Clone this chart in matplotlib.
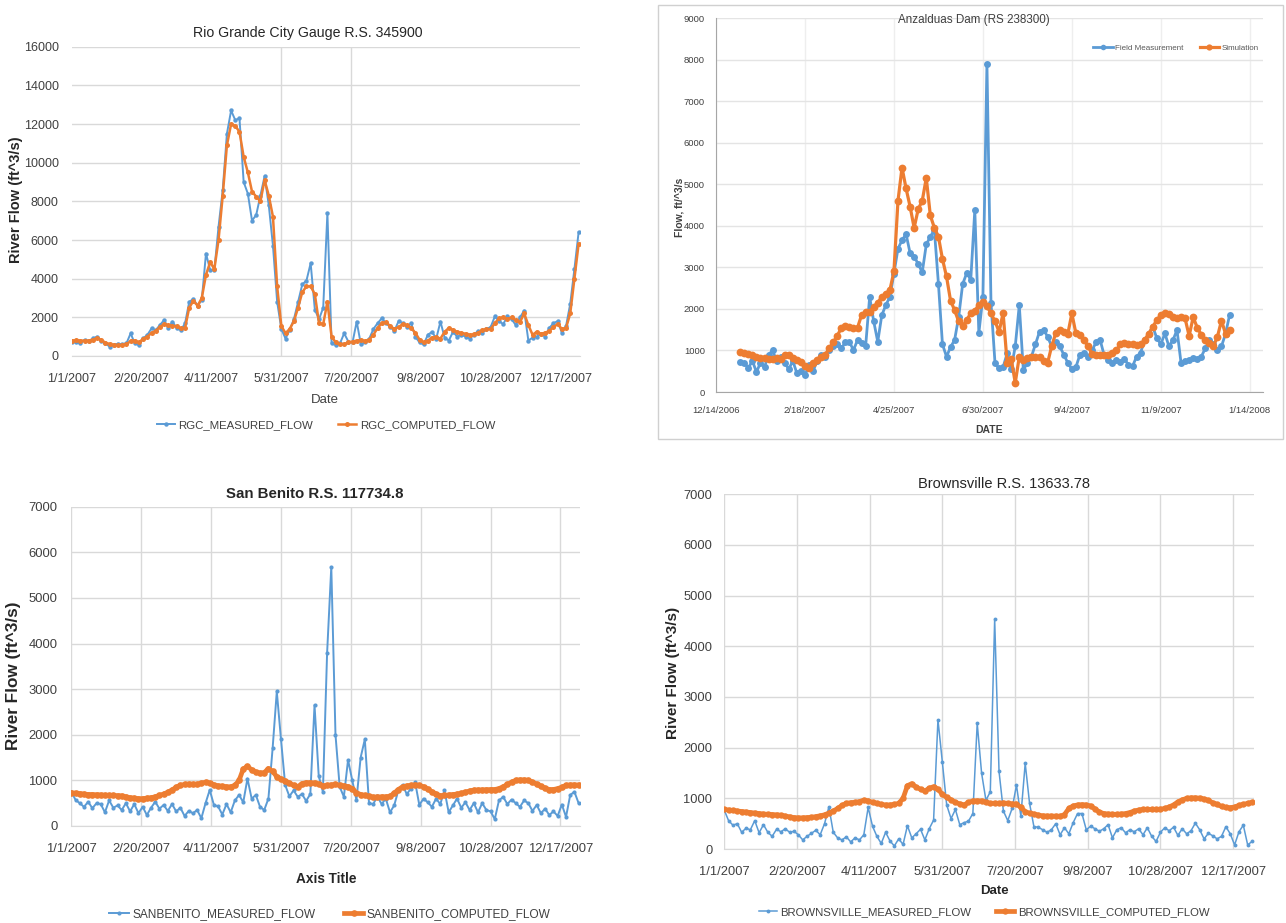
import numpy as np
import pandas as pd
import matplotlib
matplotlib.use('Agg')
import matplotlib.pyplot as plt
from matplotlib.patches import Rectangle

plt.rcParams['font.family'] = ['Liberation Sans', 'DejaVu Sans']

BLUE = '#5B9BD5'
ORANGE = '#ED7D31'
GRID = '#D9D9D9'

# ---------------- data (values every 3 days starting 1/1/2007) ----------------
STEP = 3
date_labels = ['1/1/2007', '2/20/2007', '4/11/2007', '5/31/2007', '7/20/2007',
               '9/8/2007', '10/28/2007', '12/17/2007']
anz_labels = ['12/14/2006', '2/18/2007', '4/25/2007', '6/30/2007', '9/4/2007',
              '11/9/2007', '1/14/2008']

rgc_measured = [740, 700, 650, 830, 760, 910, 1000, 760, 650, 480,
                570, 640, 600, 650, 1170, 650, 560, 910, 1090, 1430,
                1340, 1600, 1860, 1430, 1780, 1430, 1340, 1690, 2800, 2950,
                2600, 2900, 5300, 4450, 4450, 6690, 8590, 11500, 12700, 12200,
                12300, 9000, 8400, 7000, 7300, 8300, 9300, 7800, 5700, 2800,
                1400, 900, 1350, 1900, 2800, 3700, 3900, 4800, 2400, 1900,
                2500, 7400, 650, 570, 650, 1170, 750, 700, 1780, 600,
                700, 900, 1400, 1700, 1950, 1700, 1500, 1300, 1800, 1700,
                1500, 1700, 1000, 700, 600, 1100, 1250, 900, 1780, 950,
                800, 1250, 1000, 1100, 1000, 900, 1100, 1300, 1200, 1400,
                1500, 2050, 1800, 1650, 2050, 1900, 1600, 2000, 2350, 800,
                950, 1000, 1150, 1000, 1450, 1700, 1800, 1200, 1550, 2700,
                4500, 6400]
rgc_computed = [790, 820, 800, 790, 800, 850, 930, 830, 690, 620,
                580, 560, 570, 600, 780, 800, 700, 900, 1000, 1200,
                1310, 1500, 1650, 1600, 1550, 1550, 1430, 1450, 2500, 2850,
                2600, 3000, 4200, 4850, 4500, 6000, 8300, 10900, 12000, 11900,
                11600, 10300, 9500, 8500, 8250, 8000, 9100, 8300, 7200, 3600,
                1550, 1180, 1400, 1800, 2500, 3300, 3600, 3600, 3200, 1700,
                1650, 2800, 1000, 700, 600, 620, 700, 750, 800, 820,
                780, 850, 1100, 1450, 1700, 1750, 1550, 1400, 1500, 1650,
                1600, 1450, 1200, 850, 700, 800, 950, 980, 900, 1250,
                1450, 1350, 1250, 1200, 1150, 1100, 1120, 1200, 1350, 1380,
                1400, 1700, 1950, 2000, 1900, 2000, 1850, 1750, 2200, 1600,
                1100, 1250, 1150, 1200, 1300, 1500, 1650, 1400, 1450, 2200,
                4000, 5800]

anz_field = [730, 700, 580, 750, 480, 700, 600, 900, 1000, 750,
             850, 700, 550, 750, 450, 500, 400, 650, 500, 750,
             900, 850, 1000, 1100, 1150, 1050, 1200, 1200, 1010, 1250,
             1170, 1100, 2290, 1700, 1210, 1850, 2090, 2290, 2850, 3450,
             3650, 3800, 3340, 3260, 3080, 2880, 3550, 3740, 3900, 2610,
             1150, 850, 1080, 1250, 1800, 2600, 2860, 2700, 4380, 1420,
             2290, 7900, 2150, 690, 570, 600, 930, 550, 1100, 2090,
             530, 700, 850, 1150, 1450, 1500, 1330, 1100, 1200, 1100,
             900, 700, 550, 600, 900, 950, 850, 1000, 1200, 1250,
             880, 760, 700, 780, 730, 800, 650, 620, 850, 950,
             1250, 1400, 1570, 1300, 1150, 1410, 1100, 1250, 1490, 700,
             750, 770, 820, 800, 850, 1050, 1250, 1150, 1000, 1100,
             1400, 1850]
anz_sim = [970, 950, 920, 880, 850, 830, 820, 800, 800, 820,
           800, 880, 880, 820, 780, 720, 620, 580, 700, 780,
           850, 900, 1050, 1200, 1350, 1550, 1600, 1570, 1530, 1550,
           1850, 1930, 1930, 2050, 2150, 2290, 2370, 2455, 2900, 4600,
           5400, 4900, 4460, 3950, 4400, 4600, 5150, 4250, 3950, 3740,
           3200, 2780, 2200, 1970, 1700, 1590, 1730, 1900, 1950, 2100,
           2170, 2070, 1890, 1700, 1450, 1900, 700, 800, 220, 850,
           770, 830, 850, 850, 850, 750, 700, 1100, 1410, 1490,
           1450, 1400, 1890, 1410, 1370, 1250, 1100, 920, 890, 890,
           890, 890, 930, 1000, 1150, 1170, 1160, 1150, 1130, 1150,
           1250, 1400, 1570, 1730, 1850, 1890, 1870, 1810, 1770, 1800,
           1770, 1350, 1800, 1550, 1380, 1260, 1170, 1100, 1330, 1720,
           1400, 1500]

sb_measured = [750, 570, 500, 420, 530, 390, 500, 480, 300, 560,
               400, 450, 350, 500, 320, 480, 280, 420, 240, 400,
               530, 380, 460, 330, 480, 320, 400, 220, 330, 280,
               350, 170, 500, 790, 460, 430, 250, 480, 300, 560,
               680, 520, 1040, 600, 680, 420, 350, 600, 1700, 2950,
               1900, 900, 650, 780, 640, 700, 550, 700, 2650, 1100,
               750, 3790, 5680, 2000, 860, 640, 1450, 1000, 570, 1500,
               1900, 500, 480, 650, 480, 600, 300, 450, 780, 900,
               700, 820, 960, 460, 600, 520, 420, 600, 480, 780,
               300, 450, 600, 400, 520, 350, 500, 300, 500, 350,
               320, 150, 560, 640, 480, 580, 500, 420, 560, 500,
               330, 460, 280, 380, 240, 320, 220, 470, 200, 680,
               750, 500]
sb_computed = [730, 720, 710, 700, 690, 690, 685, 680, 675, 670,
               670, 665, 660, 640, 620, 610, 600, 600, 610, 620,
               640, 670, 700, 740, 790, 850, 890, 910, 920, 915,
               915, 940, 960, 940, 900, 880, 870, 860, 860, 890,
               1000, 1250, 1310, 1230, 1180, 1160, 1170, 1260, 1200, 1080,
               1030, 990, 940, 890, 860, 930, 950, 950, 945, 920,
               880, 890, 900, 910, 890, 880, 865, 820, 730, 690,
               670, 650, 630, 635, 640, 640, 650, 720, 800, 860,
               880, 890, 900, 890, 860, 810, 750, 700, 665, 670,
               680, 690, 700, 715, 740, 770, 785, 790, 790, 795,
               800, 800, 820, 860, 910, 960, 1000, 1010, 1010, 1000,
               960, 920, 870, 830, 800, 800, 820, 850, 890, 900,
               900, 900]

bv_measured = [770, 560, 470, 500, 330, 410, 380, 560, 320, 480,
               330, 250, 390, 340, 400, 330, 350, 280, 180, 250,
               310, 370, 280, 500, 830, 330, 220, 180, 240, 140,
               220, 180, 280, 820, 450, 250, 110, 330, 160, 60,
               200, 90, 460, 220, 300, 390, 180, 400, 570, 2550,
               1720, 870, 600, 780, 480, 520, 550, 700, 2480, 1500,
               960, 1130, 4530, 1530, 750, 560, 800, 1260, 650, 1690,
               900, 440, 430, 380, 330, 380, 500, 280, 420, 300,
               520, 700, 700, 380, 450, 400, 350, 400, 480, 220,
               380, 420, 320, 380, 340, 400, 280, 420, 250, 150,
               330, 420, 360, 430, 270, 400, 300, 360, 510, 380,
               200, 310, 260, 200, 250, 440, 300, 80, 340, 470,
               80, 150]
bv_computed = [780, 770, 760, 750, 740, 730, 720, 710, 700, 690,
               685, 680, 675, 665, 650, 635, 620, 615, 615, 620,
               625, 640, 655, 675, 710, 750, 800, 860, 900, 915,
               920, 935, 965, 950, 920, 900, 880, 870, 870, 880,
               900, 1000, 1250, 1290, 1220, 1180, 1145, 1200, 1230, 1180,
               1080, 1020, 970, 920, 890, 870, 920, 950, 950, 950,
               920, 900, 905, 900, 910, 900, 890, 890, 820, 740,
               705, 690, 670, 655, 650, 650, 650, 645, 680, 800,
               850, 870, 875, 870, 850, 790, 730, 700, 690, 685,
               685, 690, 700, 720, 750, 770, 780, 780, 780, 780,
               785, 800, 830, 870, 930, 970, 1000, 1010, 1010, 1005,
               985, 960, 910, 880, 840, 820, 815, 830, 860, 880,
               900, 920]

# ---------------- figure ----------------
W, H = 1286, 923
fig = plt.figure(figsize=(W / 100, H / 100), dpi=100)


def fx(px):
    return px / W


def fy(py):
    return 1 - py / H


def add_axes(l, t, r, b):
    return fig.add_axes([fx(l), fy(b), fx(r) - fx(l), fy(t) - fy(b)])


def days(vals):
    return np.arange(len(vals)) * STEP


start = pd.Timestamp('2007-01-01')
date_pos = [(pd.Timestamp(pd.to_datetime(s)) - start).days for s in date_labels]
anz_start = pd.Timestamp('2006-12-14')
anz_pos = [(pd.Timestamp(pd.to_datetime(s)) - anz_start).days for s in anz_labels]
anz_off = (start - anz_start).days


def excel_axes(ax, ymax, ystep, fs, vgrid, ypad):
    ax.set_xlim(0, 364)
    ax.set_ylim(0, ymax)
    ax.set_yticks(np.arange(0, ymax + 1, ystep))
    ax.set_xticks(date_pos)
    ax.set_xticklabels(date_labels)
    ax.set_axisbelow(True)
    ax.yaxis.grid(True, color=GRID, lw=1)
    for s in ['top', 'right', 'left']:
        ax.spines[s].set_visible(False)
    ax.spines['bottom'].set_color(GRID)
    ax.tick_params(length=0, labelsize=fs, labelcolor='#404040')
    ax.tick_params(axis='x', pad=12)
    ax.tick_params(axis='y', pad=ypad)
    for v in vgrid:
        ax.axvline(v, color=GRID, lw=1, zorder=0)


# ---- Panel 1: Rio Grande City ----
ax1 = add_axes(72, 46.7, 580, 356)
excel_axes(ax1, 16000, 2000, 9, [date_pos[3], date_pos[4]], 9.5)
l1a, = ax1.plot(days(rgc_measured), rgc_measured, color=BLUE, lw=1.4, marker='o', ms=3.2, mew=0)
l1b, = ax1.plot(days(rgc_computed), rgc_computed, color=ORANGE, lw=1.8, marker='o', ms=3.6, mew=0)
fig.text(fx(308), fy(33), 'Rio Grande City Gauge R.S. 345900', ha='center', va='center', fontsize=10.2, color='#262626')
fig.text(fx(16), fy(200), 'River Flow (ft^3/s)', ha='center', va='center', rotation=90, fontsize=10.5, weight='bold', color='#262626')
fig.text(fx(325), fy(400), 'Date', ha='center', va='center', fontsize=9.5, color='#404040')
fig.legend([l1a, l1b], ['RGC_MEASURED_FLOW', 'RGC_COMPUTED_FLOW'], loc='center',
           bbox_to_anchor=(fx(326), fy(425)), ncol=2, frameon=False, fontsize=8.2,
           handlelength=1.6, handletextpad=0.3, columnspacing=2.2, labelcolor='#404040')

# ---- Panel 2: Anzalduas Dam ----
fig.patches.append(Rectangle((fx(658), fy(439)), fx(1283) - fx(658), fy(5) - fy(439),
                             transform=fig.transFigure, fill=False, ec='#D0D0D0', lw=1))
ax2 = add_axes(716, 18, 1263, 392)
ax2.set_xlim(0, 405.8)
ax2.set_ylim(0, 9000)
ax2.set_yticks(np.arange(0, 9001, 1000))
ax2.set_xticks(anz_pos)
ax2.set_xticklabels(anz_labels)
ax2.set_axisbelow(True)
ax2.yaxis.grid(True, color='#E4E4E4', lw=1)
ax2.xaxis.grid(True, color='#EEEEEE', lw=1)
for s in ['top', 'right']:
    ax2.spines[s].set_visible(False)
ax2.spines['left'].set_color('#A6A6A6')
ax2.spines['bottom'].set_color('#A6A6A6')
ax2.tick_params(length=0, labelsize=6.8, labelcolor='#404040')
ax2.tick_params(axis='x', pad=10)
ax2.tick_params(axis='y', pad=8)
l2a, = ax2.plot(days(anz_field) + anz_off, anz_field, color=BLUE, lw=2.0, marker='o', ms=5.0, mew=0)
l2b, = ax2.plot(days(anz_sim) + anz_off, anz_sim, color=ORANGE, lw=2.3, marker='o', ms=5.6, mew=0)
fig.text(fx(974), fy(20), 'Anzalduas Dam (RS 238300)', ha='center', va='center', fontsize=8.4, color='#404040')
fig.text(fx(680), fy(207), 'Flow, ft/^3/s', ha='center', va='center', rotation=90, fontsize=7.5, weight='bold', color='#404040')
fig.text(fx(989), fy(430), 'DATE', ha='center', va='center', fontsize=7.5, weight='bold', color='#404040')
ax2.legend([l2a, l2b], ['Field Measurement', 'Simulation'], loc='center',
           bbox_to_anchor=(fx(1176), fy(48)), bbox_transform=fig.transFigure, ncol=2,
           frameon=False, fontsize=5.8, handlelength=2.4, handletextpad=0.3, columnspacing=2.0,
           labelcolor='#595959', markerscale=0.8)

# ---- Panel 3: San Benito ----
ax3 = add_axes(71.4, 506.7, 580, 826)
excel_axes(ax3, 7000, 1000, 9.4, date_pos, 10)
l3a, = ax3.plot(days(sb_measured), sb_measured, color=BLUE, lw=1.4, marker='o', ms=3.0, mew=0)
l3b, = ax3.plot(days(sb_computed), sb_computed, color=ORANGE, lw=3.4, marker='o', ms=4.8, mew=0)
fig.text(fx(315), fy(494), 'San Benito R.S. 117734.8', ha='center', va='center', fontsize=10.8, weight='bold', color='#262626')
fig.text(fx(14), fy(676), 'River Flow (ft^3/s)', ha='center', va='center', rotation=90, fontsize=12.3, weight='bold', color='#262626')
fig.text(fx(326), fy(879), 'Axis Title', ha='center', va='center', fontsize=9.8, weight='bold', color='#262626')
fig.legend([l3a, l3b], ['SANBENITO_MEASURED_FLOW', 'SANBENITO_COMPUTED_FLOW'], loc='center',
           bbox_to_anchor=(fx(330), fy(914)), ncol=2, frameon=False, fontsize=8.6,
           handlelength=1.6, handletextpad=0.3, columnspacing=2.4, labelcolor='#404040')

# ---- Panel 4: Brownsville ----
ax4 = add_axes(724.2, 494.3, 1253.5, 849)
excel_axes(ax4, 7000, 1000, 9.3, date_pos, 8.5)
l4a, = ax4.plot(days(bv_measured), bv_measured, color=BLUE, lw=1.1, marker='o', ms=2.8, mew=0)
l4b, = ax4.plot(days(bv_computed), bv_computed, color=ORANGE, lw=3.4, marker='o', ms=4.6, mew=0)
fig.text(fx(1004), fy(484), 'Brownsville R.S. 13633.78', ha='center', va='center', fontsize=10.5, color='#262626')
fig.text(fx(673), fy(673), 'River Flow (ft^3/s)', ha='center', va='center', rotation=90, fontsize=11, weight='bold', color='#262626')
fig.text(fx(994), fy(891), 'Date', ha='center', va='center', fontsize=9.5, weight='bold', color='#262626')
fig.legend([l4a, l4b], ['BROWNSVILLE_MEASURED_FLOW', 'BROWNSVILLE_COMPUTED_FLOW'], loc='center',
           bbox_to_anchor=(fx(984), fy(912)), ncol=2, frameon=False, fontsize=8.2,
           handlelength=1.6, handletextpad=0.3, columnspacing=2.2, labelcolor='#404040')

fig.savefig('out.png', dpi=100)
